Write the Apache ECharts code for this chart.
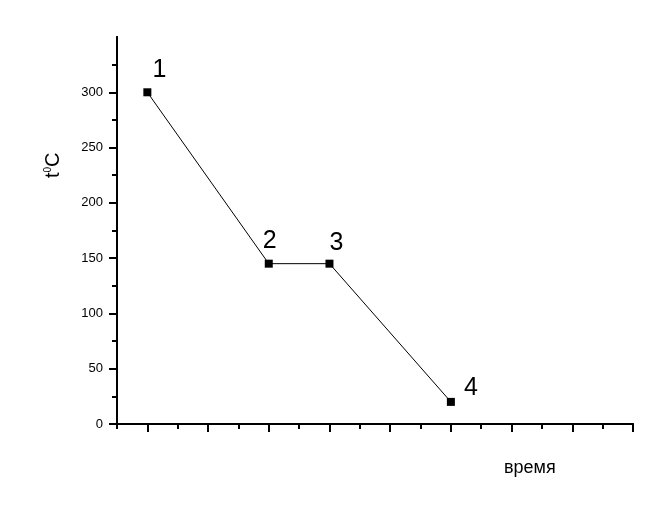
<!DOCTYPE html>
<html><head><meta charset="utf-8">
<script src="https://cdn.jsdelivr.net/npm/echarts@6/dist/echarts.min.js"></script>
<style>html,body{margin:0;padding:0;background:#fff}#c{width:671px;height:520px}</style>
</head><body><div id="c"></div>
<script>
const xValues = [1, 3, 4, 6];
const tValues = [300, 145, 145, 20];
const pointLabels = ['1', '2', '3', '4'];
const yTickLabels = [0, 50, 100, 150, 200, 250, 300];
const yMinorTicks = [25, 75, 125, 175, 225, 275, 325];
const xMajorTicks = [1, 2, 3, 4, 5, 6, 7, 8, 9];
const xMinorTicks = [0.5, 1.5, 2.5, 3.5, 4.5, 5.5, 6.5, 7.5, 8.5];
const xTitle = 'время';

const labelOffsets = [[12, -1], [1, -1], [7, 1], [20, 8]];

const chart = echarts.init(document.getElementById('c'));
const font = 'Liberation Sans, Arial, sans-serif';
const axisCommon = (extra) => Object.assign({
  type: 'value', splitLine: {show: false},
  axisLine: {show: true, onZero: false, lineStyle: {color: '#000', width: 2}}
}, extra);

chart.setOption({
  animation: false,
  backgroundColor: '#fff',
  grid: {left: 117, right: 38, top: 37, bottom: 96},
  xAxis: [
    axisCommon({min: 0.5, max: 9, position: 'bottom',
      axisTick: {show: true, customValues: xMajorTicks, length: 8, lineStyle: {color: '#000', width: 2}},
      axisLabel: {show: false}}),
    axisCommon({min: 0.5, max: 9, position: 'bottom',
      axisTick: {show: true, customValues: xMinorTicks, length: 5, lineStyle: {color: '#000', width: 2}},
      axisLabel: {show: false}})
  ],
  yAxis: [
    axisCommon({min: 0, max: 350, position: 'left',
      axisTick: {show: true, customValues: yTickLabels, length: 8, lineStyle: {color: '#000', width: 2}},
      axisLabel: {show: true, customValues: yTickLabels, color: '#000', fontFamily: font, fontSize: 13, margin: 14}}),
    axisCommon({min: 0, max: 350, position: 'left',
      axisTick: {show: true, customValues: yMinorTicks, length: 5, lineStyle: {color: '#000', width: 2}},
      axisLabel: {show: false}})
  ],
  graphic: [
    {type: 'text', left: 504, top: 459, style: {text: xTitle, fill: '#000', font: '18px ' + font}},
    {type: 'text', x: 43, y: 178, rotation: Math.PI / 2,
      style: {text: '{t|t}{s|0}{t|C}', fill: '#000', rich: {
        t: {fontSize: 20, fontFamily: font, fill: '#000', verticalAlign: 'bottom'},
        s: {fontSize: 10, fontFamily: font, fill: '#000', verticalAlign: 'top', padding: [0, 0, 10, 0]}}}}
  ],
  series: [{
    type: 'line',
    xAxisIndex: 0, yAxisIndex: 0,
    data: xValues.map((x, i) => ({
      value: [x, tValues[i]],
      label: {show: true, formatter: pointLabels[i], position: 'top', offset: labelOffsets[i],
        color: '#000', fontSize: 25, fontFamily: font}
    })),
    symbol: 'rect', symbolSize: 8,
    itemStyle: {color: '#000'},
    lineStyle: {color: '#000', width: 1}
  }]
});
</script></body></html>
